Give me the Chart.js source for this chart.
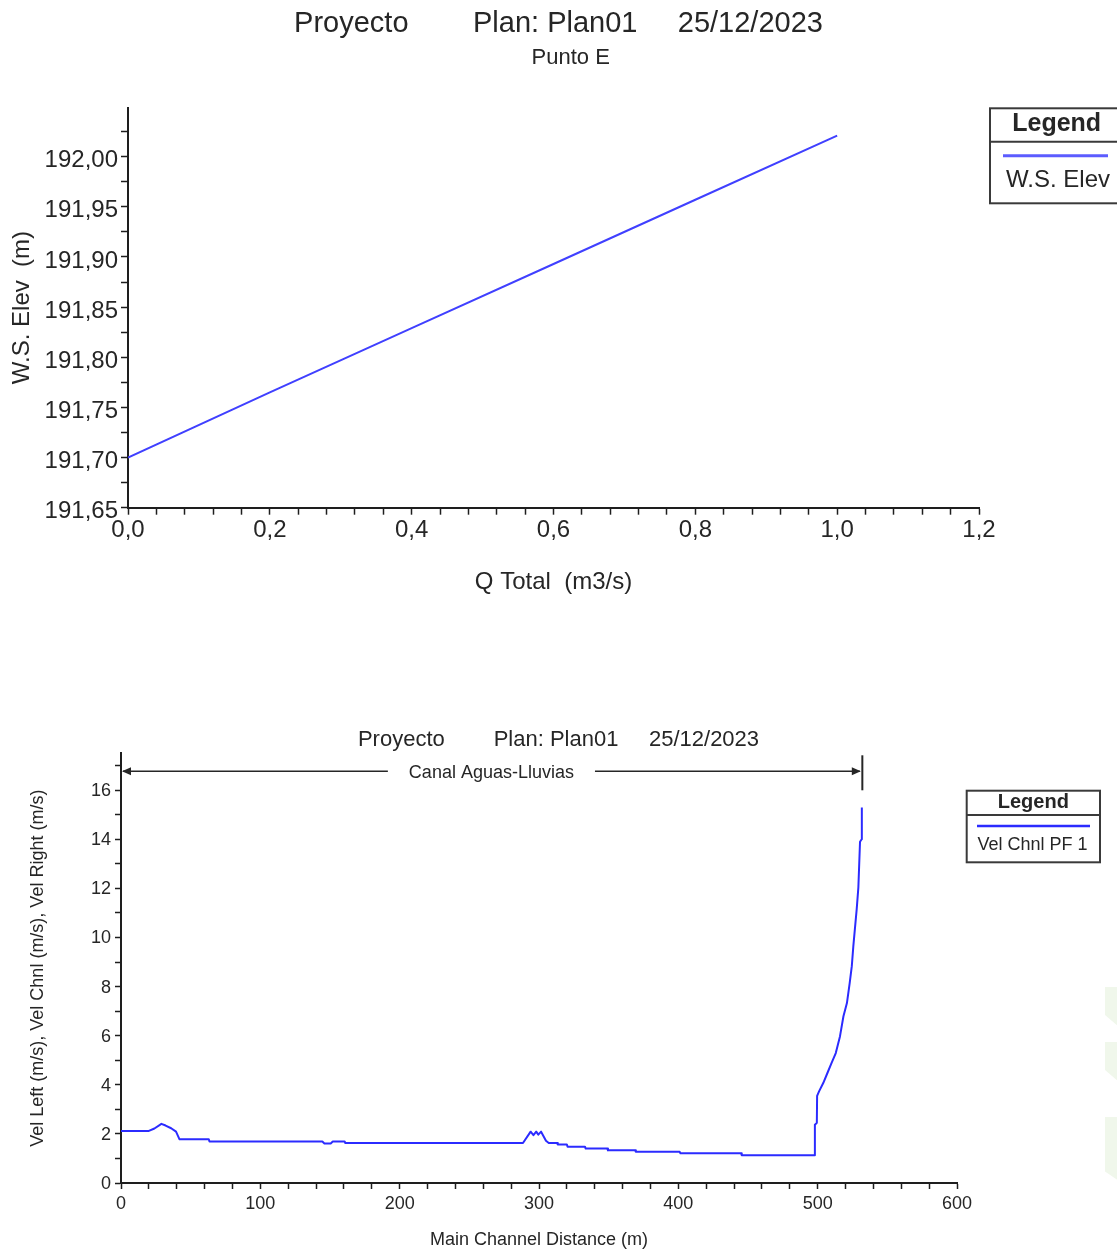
<!DOCTYPE html>
<html>
<head>
<meta charset="utf-8">
<title>Proyecto - Plan01 - Punto E</title>
<script src="https://cdn.jsdelivr.net/npm/chart.js@4.4.1/dist/chart.umd.min.js"></script>
<style>
  html, body { margin: 0; padding: 0; background: #fff; }
  body { width: 1117px; height: 1251px; position: relative; overflow: hidden; }
  canvas { position: absolute; left: 0; }
  #wsChart { top: 0; }
  #velChart { top: 680px; }
  .leaf { position: absolute; left: 1105px; width: 14px; background: #f0f7eb; }
</style>
</head>
<body>
<canvas id="wsChart" width="1117" height="620"></canvas>
<canvas id="velChart" width="1117" height="571"></canvas>
<div class="leaf" style="top:987px;height:40px;clip-path:polygon(0 0,100% 0,100% 100%,0 70%)"></div>
<div class="leaf" style="top:1042px;height:40px;clip-path:polygon(0 0,100% 0,100% 100%,0 70%)"></div>
<div class="leaf" style="top:1117px;height:64px;clip-path:polygon(0 0,100% 0,100% 100%,0 85%)"></div>
<script>
// ===== DATA =====
// rating curve at Punto E
const qTotal = [0, 0.2, 0.4, 0.6, 0.8, 1.0];
const wsElev = [191.700, 191.765, 191.829, 191.893, 191.957, 192.021];
const qTickLabels = ['0,0', '0,2', '0,4', '0,6', '0,8', '1,0', '1,2'];
const wsTickLabels = ['191,65', '191,70', '191,75', '191,80', '191,85', '191,90', '191,95', '192,00'];

// channel velocity profile along the reach
const chnlDist = [0, 20, 24, 29, 32, 36, 39.5, 42, 63, 63.5, 144.5, 146, 150.5, 152, 160.5, 161,
  288.5, 294, 296, 298, 299.5, 301.5, 305, 307, 313, 313.5, 320, 320.5, 333, 333.5, 349, 349.5,
  369, 369.5, 401, 401.5, 445, 445.5, 497.8, 498, 499.4, 499.6, 501, 504, 507, 510, 513, 516,
  518.5, 521, 523, 524.5, 525.6, 526.8, 528, 529.2, 530.4, 531.6, 531.7];
const velChnl = [2.12, 2.12, 2.22, 2.41, 2.34, 2.23, 2.09, 1.78, 1.78, 1.69, 1.69, 1.61, 1.61, 1.69, 1.69, 1.63,
  1.63, 2.09, 1.95, 2.09, 1.97, 2.09, 1.72, 1.63, 1.63, 1.57, 1.57, 1.48, 1.48, 1.40, 1.40, 1.33,
  1.33, 1.27, 1.27, 1.21, 1.21, 1.13, 1.13, 2.37, 2.45, 3.55, 3.73, 4.07, 4.48, 4.89, 5.29, 5.97,
  6.79, 7.33, 8.15, 8.83, 9.65, 10.4, 11.14, 12.03, 13.9, 14.0, 15.29];
const distTickLabels = ['0', '100', '200', '300', '400', '500', '600'];
const velTickLabels = ['0', '2', '4', '6', '8', '10', '12', '14', '16'];
const reachName = 'Canal Aguas-Lluvias';
const reachStart = 0;
const reachEnd = 531.7;

// ===== COMMON =====
const FONT = '"Liberation Sans", Arial, sans-serif';
const INK = '#262626';
Chart.defaults.font.family = FONT;
Chart.defaults.color = INK;

const legendBox = {
  id: 'legendBox',
  afterDraw(chart, args, o) {
    const ctx = chart.ctx;
    const ds = chart.data.datasets[0];
    ctx.save();
    ctx.strokeStyle = '#3a3a3a';
    ctx.lineWidth = 2;
    ctx.strokeRect(o.left, o.top, o.width, o.height);
    ctx.beginPath();
    ctx.moveTo(o.left, o.divider);
    ctx.lineTo(o.left + o.width, o.divider);
    ctx.stroke();
    ctx.fillStyle = INK;
    ctx.textAlign = 'center';
    ctx.textBaseline = 'middle';
    ctx.font = 'bold ' + o.headSize + 'px ' + FONT;
    ctx.fillText('Legend', o.headX, o.headY);
    ctx.strokeStyle = o.swatchColor;
    ctx.lineWidth = o.swatchWidth;
    ctx.beginPath();
    ctx.moveTo(o.lineX0, o.lineY);
    ctx.lineTo(o.lineX1, o.lineY);
    ctx.stroke();
    ctx.textAlign = 'left';
    ctx.font = o.labelSize + 'px ' + FONT;
    ctx.fillText(ds.label, o.labelX, o.labelY);
    ctx.restore();
  }
};

const reachArrow = {
  id: 'reachArrow',
  afterDraw(chart, args, o) {
    const ctx = chart.ctx;
    const xs = chart.scales.x;
    const x0 = xs.getPixelForValue(o.from);
    const x1 = xs.getPixelForValue(o.to);
    const y = chart.chartArea.top + 18;
    const mid = (x0 + x1) / 2;
    ctx.save();
    ctx.font = '18px ' + FONT;
    const tw = ctx.measureText(o.text).width;
    ctx.strokeStyle = INK;
    ctx.fillStyle = INK;
    ctx.lineWidth = 1.5;
    ctx.beginPath();
    ctx.moveTo(x0 + 2, y);
    ctx.lineTo(mid - tw / 2 - 21, y);
    ctx.moveTo(mid + tw / 2 + 21, y);
    ctx.lineTo(x1 - 2, y);
    ctx.stroke();
    ctx.lineWidth = 2;
    ctx.beginPath();
    ctx.moveTo(x1 + 0.5, chart.chartArea.top + 2);
    ctx.lineTo(x1 + 0.5, chart.chartArea.top + 37);
    ctx.stroke();
    ctx.beginPath();
    ctx.moveTo(x0 + 1, y);
    ctx.lineTo(x0 + 10, y - 4);
    ctx.lineTo(x0 + 10, y + 4);
    ctx.closePath();
    ctx.fill();
    ctx.beginPath();
    ctx.moveTo(x1 - 1, y);
    ctx.lineTo(x1 - 10, y - 4);
    ctx.lineTo(x1 - 10, y + 4);
    ctx.closePath();
    ctx.fill();
    ctx.textAlign = 'center';
    ctx.textBaseline = 'middle';
    ctx.fillText(o.text, mid, y + 2);
    ctx.restore();
  }
};

// label only the ticks that sit on a round value listed in the tick-label arrays
function pick(list, v, digits) {
  const k = Math.pow(10, digits);
  if (Math.abs(v * k - Math.round(v * k)) > 1e-6) return '';
  const t = v.toFixed(digits).replace('.', ',');
  return list.includes(t) ? t : '';
}

function axisStyle(tickLen) {
  return {
    grid: { drawOnChartArea: false, drawTicks: true, tickLength: tickLen, tickColor: '#1e1e1e', tickWidth: 1.5 },
    border: { display: true, color: '#1e1e1e', width: 2 }
  };
}

// spacer on the right so the plot ends where the legend starts
function rightSpacer(w) {
  return {
    type: 'linear', position: 'right', display: true,
    grid: { display: false }, border: { display: false }, ticks: { display: false },
    afterFit: s => { s.width = w; }
  };
}

// ===== W.S. ELEV vs Q TOTAL =====
new Chart(document.getElementById('wsChart'), {
  type: 'line',
  data: {
    datasets: [{
      label: 'W.S. Elev',
      data: qTotal.map((q, i) => ({ x: q, y: wsElev[i] })),
      borderColor: '#4040ff',
      borderWidth: 2,
      pointRadius: 0,
      tension: 0
    }]
  },
  options: {
    responsive: false,
    animation: false,
    layout: { padding: { top: 0, left: 0, right: 0, bottom: 23.6 } },
    plugins: {
      legend: { display: false },
      tooltip: { enabled: false },
      title: {
        display: true,
        text: 'Proyecto        Plan: Plan01     25/12/2023',
        font: { size: 29, weight: 'normal' },
        color: INK,
        padding: { top: 6.6, bottom: 0 }
      },
      subtitle: {
        display: true,
        text: '\u00a0\u00a0\u00a0\u00a0Punto E',
        font: { size: 22, weight: 'normal' },
        color: INK,
        padding: { top: 3.4, bottom: 36.3 }
      },
      legendBox: {
        left: 990, top: 108.3, width: 140, height: 95, divider: 141.7,
        headX: 1056.7, headY: 124, headSize: 25,
        lineX0: 1003, lineX1: 1108, lineY: 155.7, swatchWidth: 3, swatchColor: '#5c5cff',
        labelX: 1006, labelY: 180, labelSize: 24
      }
    },
    scales: {
      x: {
        type: 'linear', min: 0, max: 1.2,
        ...axisStyle(7),
        ticks: {
          stepSize: 0.04, autoSkip: false, maxRotation: 0, minRotation: 0,
          padding: 1, color: INK, font: { size: 24 },
          callback: v => pick(qTickLabels, v, 1)
        },
        title: { display: true, text: 'Q Total  (m3/s)', color: INK, font: { size: 24 }, padding: { top: 0, bottom: 0 } },
        afterFit: s => { s.height = 88.7; }
      },
      y: {
        type: 'linear', min: 191.65, max: 192.049,
        ...axisStyle(7),
        ticks: {
          stepSize: 0.025, autoSkip: false, includeBounds: false,
          padding: 3, labelOffset: 4, color: INK, font: { size: 24 },
          callback: v => pick(wsTickLabels, v, 2)
        },
        title: { display: true, text: 'W.S. Elev  (m)', color: INK, font: { size: 24 }, padding: { top: 8.1, bottom: 0 } },
        afterFit: s => { s.width = 128; }
      },
      pad: rightSpacer(1117 - 979)
    }
  },
  plugins: [legendBox]
});

// ===== CHANNEL VELOCITY PROFILE =====
new Chart(document.getElementById('velChart'), {
  type: 'line',
  data: {
    datasets: [{
      label: 'Vel Chnl PF 1',
      data: chnlDist.map((d, i) => ({ x: d, y: velChnl[i] })),
      borderColor: '#2b2bff',
      borderWidth: 2,
      borderJoinStyle: 'round',
      pointRadius: 0,
      tension: 0
    }]
  },
  options: {
    responsive: false,
    animation: false,
    layout: { padding: { top: 0, left: 0, right: 0, bottom: 0.2 } },
    plugins: {
      legend: { display: false },
      tooltip: { enabled: false },
      title: {
        display: true,
        text: 'Proyecto        Plan: Plan01     25/12/2023',
        font: { size: 22, weight: 'normal' },
        color: INK,
        padding: { top: 46.8, bottom: 0.1 }
      },
      legendBox: {
        left: 966.7, top: 110.7, width: 133.3, height: 71.6, divider: 135,
        headX: 1033.3, headY: 122.5, headSize: 20,
        lineX0: 977, lineX1: 1090, lineY: 146, swatchWidth: 2.5, swatchColor: '#2b2bff',
        labelX: 977.5, labelY: 165, labelSize: 18
      },
      reachArrow: { from: reachStart, to: reachEnd, text: reachName }
    },
    scales: {
      x: {
        type: 'linear', min: 0, max: 600,
        ...axisStyle(6),
        ticks: {
          stepSize: 20, autoSkip: false, maxRotation: 0, minRotation: 0,
          padding: 4, color: INK, font: { size: 18 },
          callback: v => pick(distTickLabels, v, 0)
        },
        title: { display: true, text: 'Main Channel Distance (m)', color: INK, font: { size: 18 }, padding: { top: 0, bottom: 0 } },
        afterFit: s => { s.height = 67.8; }
      },
      y: {
        type: 'linear', min: 0, max: 17.5,
        ...axisStyle(6),
        ticks: {
          stepSize: 1, autoSkip: false, includeBounds: false,
          padding: 4, labelOffset: 1, color: INK, font: { size: 18 },
          callback: v => pick(velTickLabels, v, 0)
        },
        title: { display: true, text: 'Vel Left (m/s), Vel Chnl (m/s), Vel Right (m/s)', color: INK, font: { size: 18 }, padding: { top: 27.7, bottom: 0 } },
        afterFit: s => { s.width = 121; }
      },
      pad: rightSpacer(1117 - 957)
    }
  },
  plugins: [legendBox, reachArrow]
});
</script>
</body>
</html>
